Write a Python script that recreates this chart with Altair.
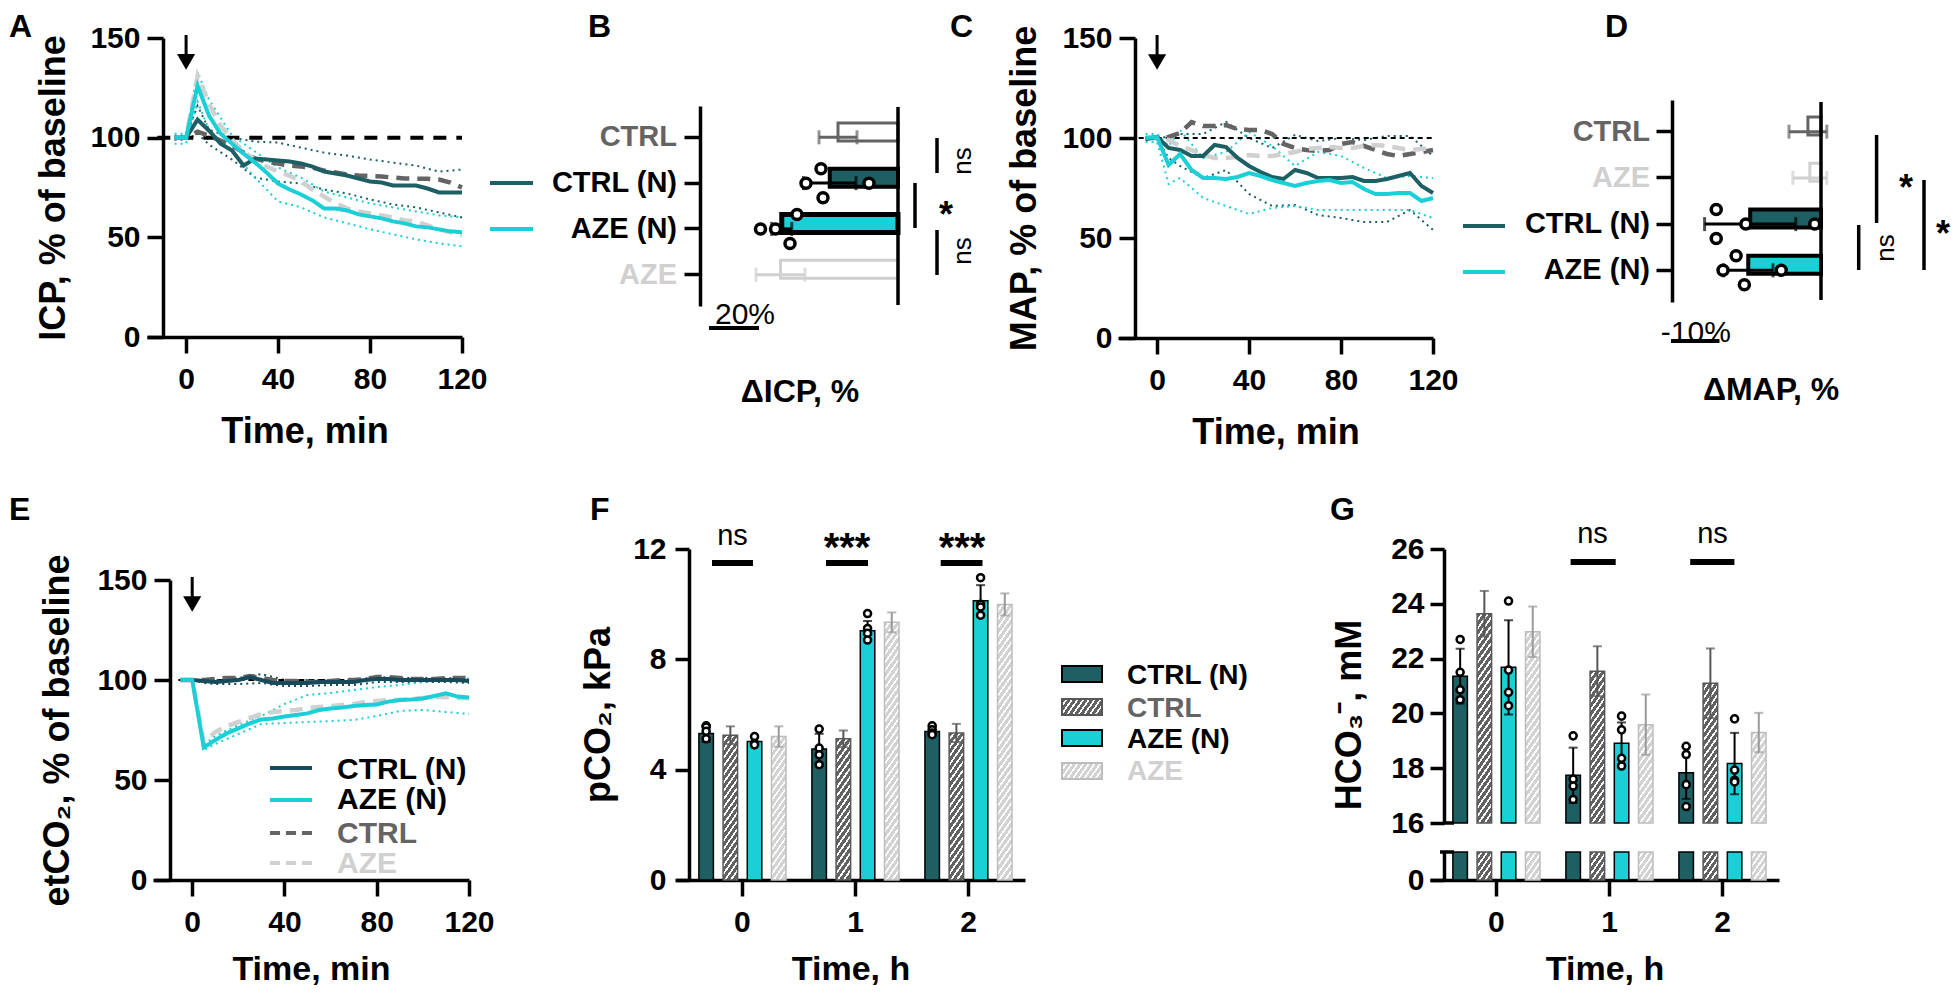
import math
import altair as alt
import pandas as pd

# ============================ values ============================
TIME = [-5, 0, 5, 10, 15, 20, 25, 30, 35, 40, 45, 50, 55, 60, 65, 70, 75, 80, 85, 90, 95, 100, 105, 110, 115, 120]
TIME_SD = [-5, 0, 5, 10, 20, 30, 40, 50, 60, 70, 80, 90, 100, 110, 120]

# A  ICP, % of baseline
icp_ctrl_n = [100, 100, 109, 103.5, 97, 93.5, 86, 89.5, 89, 88.5, 88, 87, 85.5, 83, 82, 81, 79.5, 78, 77.5, 76, 76, 76, 74.5, 72.5, 72.5, 72.5]
icp_aze_n = [100, 100, 126, 111, 102, 97, 92, 87.5, 82.5, 77, 74, 71.5, 68.5, 64.5, 64.5, 63.5, 61.5, 60.5, 59.5, 58, 57, 55.5, 55, 54, 53, 52.5]
icp_ctrl = [100, 100, 103, 101, 98.5, 96, 92.5, 89.5, 88, 87, 86, 85.5, 85, 83.5, 82.5, 81.5, 81, 80.8, 80.5, 80, 79.5, 79.4, 79.4, 79, 77.5, 75]
icp_aze = [100, 100, 131, 117, 106, 99, 93, 89, 85.5, 83, 81, 78, 74, 70.5, 67, 64.5, 63, 62, 61, 60, 58.5, 58, 56, 54, 52.5, 51]
icp_ctrl_n_hi = [101, 101, 116, 104, 100, 98, 97.5, 95, 92.5, 91, 89, 87.5, 86, 83, 84]
icp_ctrl_n_lo = [99, 99, 102, 96.5, 89, 80, 78, 77, 74, 72, 69, 66.5, 65, 62.5, 60]
icp_aze_n_hi = [102, 102, 133, 119, 101, 93, 85, 80, 73, 70, 67, 65, 63, 61, 60]
icp_aze_n_lo = [97, 97, 118, 104, 93, 80, 68, 65, 60, 57, 54, 51.5, 49, 47, 45.5]

# C  MAP, % of baseline
map_ctrl_n = [99.5, 100.5, 95, 94, 91, 91, 96.5, 95.5, 90, 86, 83, 80.5, 79.5, 84, 82.5, 80, 80, 80, 80.5, 78.5, 78.5, 79.5, 81, 82.5, 76, 72.5]
map_aze_n = [100, 100.5, 86.5, 92, 84, 80, 80, 79.5, 80.5, 82.5, 81, 79, 77.5, 76, 77.5, 78.5, 79, 77.5, 78, 74.5, 72, 72, 72.5, 72.5, 68.5, 70]
map_ctrl = [100, 100, 100.5, 102.5, 108, 106, 106, 106.5, 104.5, 104, 104, 102, 97, 95, 94, 93.5, 94, 97, 98, 96, 94, 92, 91, 92, 93, 94]
map_aze = [100, 100, 99, 96, 94, 91.5, 90, 90, 90.5, 91.5, 91, 91, 92, 93, 94.5, 95, 95.5, 95, 95, 96, 96.5, 96, 95, 94, 94.5, 95]
map_ctrl_n_hi = [100, 101, 100, 102, 102, 108, 100, 95, 101.5, 98.5, 100, 99, 101, 101, 91]
map_ctrl_n_lo = [99, 100, 90, 86, 80, 84, 72, 66, 66.5, 61.5, 60, 58, 58, 64, 54]
map_aze_n_hi = [102, 102, 96, 104, 90, 93, 103, 96, 86, 93, 91, 85, 80, 81, 80]
map_aze_n_lo = [98, 98, 77, 80, 70, 66, 62, 65, 66, 64, 64, 64, 64, 64, 60]

# E  etCO2, % of baseline
et_ctrl_n = [100, 100, 99.5, 99, 99.5, 100, 101.5, 100, 98.5, 98.5, 98.5, 98.5, 99, 99, 99, 99, 100, 100.5, 100.5, 100, 100, 100, 100, 100, 100, 99.5]
et_aze_n = [100, 100, 66.3, 70, 73.3, 75.8, 78.3, 80.3, 80.8, 81.7, 82.5, 83.3, 85, 85.8, 86.3, 87, 87.5, 87.8, 89.2, 90, 90.3, 90.8, 92, 93.3, 91.7, 91.3]
et_ctrl = [100, 100, 100, 100.5, 101, 101, 102, 101, 100, 99.5, 99.5, 99, 99, 99.5, 100, 100, 100.5, 101.5, 101.5, 101, 100.5, 100.5, 100.5, 101, 101, 101]
et_aze = [100, 100, 69, 74, 77, 79, 81, 83, 84, 84.5, 85, 86, 86.5, 87, 87.5, 88, 89, 89.5, 90, 90, 90.5, 91, 91.5, 91.5, 91, 91]
et_ctrl_n_hi = [100, 100, 100, 100, 101, 103, 100, 100, 100, 100, 101.5, 101, 101, 101, 100.5]
et_ctrl_n_lo = [100, 100, 98.5, 98, 98, 98.5, 97, 97, 97.5, 97.5, 99, 99, 99, 99, 98.5]
et_aze_n_hi = [100, 100, 67.5, 72, 77.5, 82, 88, 92.5, 93.5, 95, 96.5, 97.5, 99, 100, 100.8]
et_aze_n_lo = [100, 100, 65, 68, 73, 78, 78.5, 79, 79.5, 80, 82, 84.5, 85, 84, 83]

# B  delta ICP, %
dicp_groups = ["CTRL", "CTRL (N)", "AZE (N)", "AZE"]
dicp_mean = [-24.0, -27.3, -46.5, -47.0]
dicp_err = [7.6, 10.5, 4.0, 9.8]
dicp_pts_ctrl_n = [-36.8, -30.8, -30.0, -11.6]
dicp_pts_aze_n = [-55.0, -49.0, -43.2, -40.4]

# D  delta MAP, %
dmap_groups = ["CTRL", "AZE", "CTRL (N)", "AZE (N)"]
dmap_mean = [-2.7, -2.3, -14.6, -15.0]
dmap_err = [3.9, 3.5, 9.4, 5.1]
dmap_pts_ctrl_n = [-21.6, -21.6, -15.5, -1.3]
dmap_pts_aze_n = [-20.2, -17.5, -15.8, -8.2]

# F / G  blood gases at 0, 1, 2 h
hours = ["0", "1", "2"]
groups = ["CTRL (N)", "CTRL", "AZE (N)", "AZE"]
pco2_ctrl_n = [5.31, 4.75, 5.38]
pco2_ctrl = [5.25, 5.12, 5.33]
pco2_aze_n = [5.02, 9.04, 10.12]
pco2_aze = [5.2, 9.34, 9.99]
pco2_ctrl_n_err = [0.3, 0.55, 0.15]
pco2_ctrl_err = [0.32, 0.3, 0.33]
pco2_aze_n_err = [0.15, 0.35, 0.57]
pco2_aze_err = [0.37, 0.36, 0.4]
pco2_ctrl_n_pts = [[5.59, 5.55, 5.39, 5.12], [5.47, 4.78, 4.54, 4.18], [5.59, 5.45, 5.33, 5.27]]
pco2_aze_n_pts = [[5.2, 4.95, 4.9], [9.66, 9.12, 8.94, 8.7], [10.96, 10.0, 9.9, 9.6]]

hco3_ctrl_n = [21.36, 17.74, 17.83]
hco3_ctrl = [23.64, 21.54, 21.1]
hco3_aze_n = [21.68, 18.91, 18.17]
hco3_aze = [22.98, 19.59, 19.3]
hco3_ctrl_n_err = [1.0, 1.01, 0.95]
hco3_ctrl_err = [0.83, 0.91, 1.27]
hco3_aze_n_err = [1.72, 0.76, 1.12]
hco3_aze_err = [0.92, 1.1, 0.72]
hco3_ctrl_n_pts = [[22.7, 21.5, 20.86, 20.5], [19.18, 17.6, 17.35, 16.86], [18.8, 18.5, 17.4, 16.6]]
hco3_aze_n_pts = [[24.1, 21.58, 20.77, 20.28], [19.9, 19.4, 18.36, 18.08], [19.8, 17.93, 17.56, 17.5]]

# ============================ layout & style ============================
W, H = 1944, 978


def X(px):
    return px - 8


def Y(py):
    return py - 8


FONT = "Liberation Sans, Arial, Helvetica, sans-serif"
TEAL = "#1d5f63"
CYAN = "#1acfd5"
GREY = "#646464"
LGREY = "#d0d0d0"
NAVY = "#174b5c"
HATCH_D = "#626262"
HATCH_L = "#d2d2d2"
ONE = pd.DataFrame({"k": [0]})


def hatch(base, w, h, alpha=55.0, period=4.8, frac=0.36):
    """Diagonal white stripes as a hard-stop linear gradient (bbox units) for a w x h pixel rectangle."""
    sa, ca = math.sin(math.radians(alpha)), math.cos(math.radians(alpha))
    h = max(h, 1.0)
    dist = w * sa + h * ca
    k = dist / (w * w * sa * sa + h * h * ca * ca)
    n = max(1, int(round(dist / period)))
    stops = []
    for i in range(n):
        a, b, c = i / n, (i + 1 - frac) / n, (i + 1) / n
        stops += [{"offset": a, "color": base}, {"offset": b, "color": base},
                  {"offset": b, "color": "white"}, {"offset": c, "color": "white"}]
    return {"gradient": "linear", "x1": 0, "y1": 0, "x2": k * w * sa, "y2": k * h * ca, "stops": stops}


def text_at(txt, x, y, size=30, weight="bold", color="black", align="center", baseline="alphabetic", angle=0):
    kw = dict(text=txt, fontSize=size, fontWeight=weight, color=color, align=align, baseline=baseline, font=FONT)
    if angle:
        kw["angle"] = angle
    return alt.Chart(ONE).mark_text(**kw).encode(x=alt.value(X(x)), y=alt.value(Y(y)))


def hseg(x1, x2, y, color="black", width=3.5, dash=None):
    kw = dict(color=color, strokeWidth=width)
    if dash:
        kw["strokeDash"] = dash
    return alt.Chart(ONE).mark_rule(**kw).encode(x=alt.value(X(x1)), x2=alt.value(X(x2)), y=alt.value(Y(y)))


def vseg(x, y1, y2, color="black", width=3.5):
    return alt.Chart(ONE).mark_rule(color=color, strokeWidth=width).encode(
        x=alt.value(X(x)), y=alt.value(Y(y1)), y2=alt.value(Y(y2)))


def box(x1, x2, y1, y2, fill, stroke, width=2):
    return alt.Chart(ONE).mark_rect(fill=fill, stroke=stroke, strokeWidth=width).encode(
        x=alt.value(X(x1)), x2=alt.value(X(x2)), y=alt.value(Y(y1)), y2=alt.value(Y(y2)))


def x_axis(y_line, title, values=None, tick=16, title_y=77, title_size=36):
    kw = dict(orient="bottom", offset=Y(y_line) - H, grid=False, domainColor="black", domainWidth=3.5,
              tickColor="black", tickWidth=3.5, tickSize=tick, labelFont=FONT, labelFontSize=30,
              labelFontWeight="bold", labelColor="black", labelPadding=11, labelFlush=False, labelAngle=0,
              title=title, titleFont=FONT, titleFontSize=title_size, titleFontWeight="bold", titleColor="black",
              titleY=title_y, titleBaseline="top")
    if values is not None:
        kw["values"] = values
    return alt.Axis(**kw)


def y_axis(x_line, values, title=None, title_cx=None, title_cy=None, tick=16, pad=7, label_expr=None, title_size=36):
    kw = dict(orient="left", offset=-X(x_line), grid=False, domainColor="black", domainWidth=3.5,
              tickColor="black", tickWidth=3.5, tickSize=tick, values=values, labelFont=FONT,
              labelFontSize=30, labelFontWeight="bold", labelColor="black", labelPadding=pad, title=title)
    if title is not None:
        kw.update(titleFont=FONT, titleFontSize=title_size, titleFontWeight="bold", titleColor="black",
                  titleAngle=270, titleAlign="center", titleBaseline="middle", titleX=title_cx + 2 - x_line)
        if title_cy is not None:
            kw["titleY"] = Y(title_cy)
    if label_expr:
        kw["labelExpr"] = label_expr
    return alt.Axis(**kw)


# ------------------------------------------------------------ line panels
def series_frame(times, series):
    rows = []
    for key, vals, col in series:
        for t, v in zip(times, vals):
            rows.append({"t": t, "v": v, "s": key, "c": col})
    return pd.DataFrame(rows)


def line_panel(solid, dashed, dotted, xr, yr, axis_x, axis_y, ytitle, title_cx, base_t, base_dash, base_w,
               xtitle_y=77, xtitle_size=36):
    xs = alt.Scale(domain=[-17, 120], range=[X(xr[0]), X(xr[1])], nice=False, zero=False)
    ys = alt.Scale(domain=[0, 150], range=[Y(yr[0]), Y(yr[1])], nice=False, zero=False)
    xa = x_axis(axis_y, "Time, min", values=[0, 40, 80, 120], title_y=xtitle_y, title_size=xtitle_size)
    ya = y_axis(axis_x, [0, 50, 100, 150], ytitle, title_cx)

    def XT(f):
        return alt.X(f, scale=xs, axis=xa)

    def YV(f):
        return alt.Y(f, scale=ys, axis=ya)

    def enc(ch):
        return ch.encode(x=XT("t:Q"), y=YV("v:Q"), color=alt.Color("c:N", scale=None), detail="s:N")

    dots = enc(alt.Chart(series_frame(TIME_SD, dotted)).mark_line(strokeWidth=2, strokeDash=[2, 4]))
    base = alt.Chart(pd.DataFrame({"t": [base_t], "t2": [120], "v": [100]})).mark_rule(
        color="black", strokeWidth=base_w, strokeDash=base_dash).encode(x=XT("t:Q"), x2="t2", y=YV("v:Q"))
    dash = enc(alt.Chart(series_frame(TIME, dashed)).mark_line(strokeWidth=4.5, strokeDash=[13, 8]))
    sol = enc(alt.Chart(series_frame(TIME, solid)).mark_line(strokeWidth=4))
    arrow_df = pd.DataFrame({"t": [0], "v": [151.5], "v2": [141], "vh": [138]})
    shaft = alt.Chart(arrow_df).mark_rule(color="black", strokeWidth=3).encode(x=XT("t:Q"), y=YV("v:Q"), y2="v2")
    head = alt.Chart(arrow_df).mark_point(shape="triangle-down", filled=True, color="black", size=330, opacity=1).encode(
        x=XT("t:Q"), y=YV("vh:Q"))
    return alt.layer(dots, base, dash, sol, shaft, head)


panel_a = line_panel(
    solid=[("ctrl_n", icp_ctrl_n, TEAL), ("aze_n", icp_aze_n, CYAN)],
    dashed=[("ctrl", icp_ctrl, GREY), ("aze", icp_aze, LGREY)],
    dotted=[("a", icp_ctrl_n_hi, TEAL), ("b", icp_ctrl_n_lo, TEAL), ("c", icp_aze_n_hi, CYAN), ("d", icp_aze_n_lo, CYAN)],
    xr=(147, 462), yr=(337, 38), axis_x=163, axis_y=337, ytitle="ICP, % of baseline", title_cx=51.5,
    base_t=-12.5, base_dash=[13, 10], base_w=4)

panel_c = line_panel(
    solid=[("ctrl_n", map_ctrl_n, TEAL), ("aze_n", map_aze_n, CYAN)],
    dashed=[("ctrl", map_ctrl, GREY), ("aze", map_aze, LGREY)],
    dotted=[("a", map_ctrl_n_hi, TEAL), ("b", map_ctrl_n_lo, TEAL), ("c", map_aze_n_hi, CYAN), ("d", map_aze_n_lo, CYAN)],
    xr=(1118, 1433), yr=(338, 38), axis_x=1135, axis_y=338, ytitle="MAP, % of baseline", title_cx=1022,
    base_t=-8, base_dash=[5, 4], base_w=2)

panel_e = line_panel(
    solid=[("ctrl_n", et_ctrl_n, NAVY), ("aze_n", et_aze_n, CYAN)],
    dashed=[("ctrl", et_ctrl, GREY), ("aze", et_aze, LGREY)],
    dotted=[("a", et_ctrl_n_hi, NAVY), ("b", et_ctrl_n_lo, NAVY), ("c", et_aze_n_hi, CYAN), ("d", et_aze_n_lo, CYAN)],
    xr=(153, 469), yr=(880, 580), axis_x=170, axis_y=880, ytitle="etCO₂, % of baseline", title_cx=55,
    base_t=-6, base_dash=[6, 4], base_w=2, xtitle_y=72, xtitle_size=34)


# ------------------------------------------------------------ horizontal bar panels (B, D)
def hbar_panel(cats, means, errs, pts, lanes, fills, strokes, widths, ecols, lcols,
               zero_px, axis_px, ppu, band, label_px, zero_span, sbar, sbar_y, sbar_txt, sbar_txt_v, sbar_txt_y):
    lo_dom = (axis_px - zero_px) / ppu
    xs = alt.Scale(domain=[lo_dom, 0], range=[X(axis_px), X(zero_px)], nice=False, zero=False)
    ys = alt.Scale(domain=cats, range=[Y(band[0]), Y(band[1])], paddingInner=0.37, paddingOuter=0.37)
    ya = alt.Axis(orient="left", offset=-X(axis_px), grid=False, labels=False, ticks=True, tickSize=16,
                  tickWidth=3.5, tickColor="black", domainColor="black", domainWidth=3.5, title=None)
    lo = [m - e for m, e in zip(means, errs)]
    hi = [m + e for m, e in zip(means, errs)]
    df = pd.DataFrame({"cat": cats, "m": means, "zero": [0] * len(cats), "lo": lo, "hi": hi,
                       "fill": fills, "stroke": strokes, "sw": widths, "ec": ecols, "lc": lcols})
    caps = pd.DataFrame({"cat": cats * 2, "xc": lo + hi, "ec": ecols * 2})
    prow = []
    for cat, vals in pts.items():
        for v, ln in zip(vals, lanes[cat]):
            prow.append({"cat": cat, "v": v, "lane": ln})
    pdf = pd.DataFrame(prow)

    def XQ(f):
        return alt.X(f, scale=xs, axis=None)

    def YC():
        return alt.Y("cat:N", scale=ys, axis=ya)

    bars = alt.Chart(df).mark_bar().encode(
        x=XQ("m:Q"), x2="zero", y=YC(),
        fill=alt.Fill("fill:N", scale=None), stroke=alt.Stroke("stroke:N", scale=None),
        strokeWidth=alt.StrokeWidth("sw:Q", scale=None))
    err = alt.Chart(df).mark_rule(strokeWidth=3).encode(
        x=XQ("lo:Q"), x2="hi", y=YC(), color=alt.Color("ec:N", scale=None))
    cap = alt.Chart(caps).mark_tick(thickness=3, size=14).encode(
        x=XQ("xc:Q"), y=YC(), color=alt.Color("ec:N", scale=None))
    dots = alt.Chart(pdf).mark_circle(fill="white", stroke="black", strokeWidth=3.5, size=100, opacity=1).encode(
        x=XQ("v:Q"), y=YC(),
        yOffset=alt.YOffset("lane:N", scale=alt.Scale(domain=["up", "mid", "down"], range=[0, 29],
                                                       paddingInner=0, paddingOuter=0)))
    labels = alt.Chart(df).mark_text(align="right", baseline="middle", font=FONT, fontSize=29, fontWeight="bold").encode(
        x=alt.value(X(label_px)), y=YC(), text="cat:N", color=alt.Color("lc:N", scale=None))
    zl = alt.Chart(pd.DataFrame({"z": [0]})).mark_rule(color="black", strokeWidth=3.5).encode(
        x=XQ("z:Q"), y=alt.value(Y(zero_span[0])), y2=alt.value(Y(zero_span[1])))
    sdf = pd.DataFrame({"a": [sbar[0]], "b": [sbar[1]], "mid": [sbar_txt_v], "txt": [sbar_txt]})
    sb = alt.Chart(sdf).mark_rule(color="black", strokeWidth=4).encode(x=XQ("a:Q"), x2="b", y=alt.value(Y(sbar_y)))
    st = alt.Chart(sdf).mark_text(font=FONT, fontSize=30, fontWeight="normal", align="center", color="black").encode(
        x=XQ("mid:Q"), y=alt.value(Y(sbar_txt_y)), text="txt:N")
    return alt.layer(bars, err, cap, dots, labels, zl, sb, st)


panel_b = hbar_panel(
    dicp_groups, dicp_mean, dicp_err,
    pts={"CTRL (N)": dicp_pts_ctrl_n, "AZE (N)": dicp_pts_aze_n},
    lanes={"CTRL (N)": ["mid", "up", "down", "mid"], "AZE (N)": ["mid", "mid", "down", "up"]},
    fills=["white", TEAL, CYAN, "white"], strokes=[GREY, "black", "black", LGREY], widths=[3, 4, 5, 3],
    ecols=[GREY, "black", "black", LGREY], lcols=[GREY, "black", "black", LGREY],
    zero_px=898, axis_px=700, ppu=2.5, band=(106, 306), label_px=677, zero_span=(107, 305),
    sbar=(-75.6, -55.6), sbar_y=328, sbar_txt="20%", sbar_txt_v=-61.2, sbar_txt_y=315)

panel_d = hbar_panel(
    dmap_groups, dmap_mean, dmap_err,
    pts={"CTRL (N)": dmap_pts_ctrl_n, "AZE (N)": dmap_pts_aze_n},
    lanes={"CTRL (N)": ["up", "down", "mid", "mid"], "AZE (N)": ["mid", "up", "down", "mid"]},
    fills=["white", "white", TEAL, CYAN], strokes=[GREY, LGREY, "black", "black"], widths=[3, 3, 4, 4],
    ecols=[GREY, LGREY, "black", "black"], lcols=[GREY, LGREY, "black", "black"],
    zero_px=1821, axis_px=1672, ppu=4.85, band=(100, 302), label_px=1650, zero_span=(102, 300),
    sbar=(-30.93, -20.93), sbar_y=341, sbar_txt="-10%", sbar_txt_v=-25.8, sbar_txt_y=333)

# ------------------------------------------------------------ vertical grouped bars (F, G)
STYLE = {"CTRL (N)": (TEAL, None, "black", 1.5, "black"),
         "CTRL": (None, HATCH_D, "#575757", 1.5, "#575757"),
         "AZE (N)": (CYAN, None, "black", 1.5, "black"),
         "AZE": (None, HATCH_L, "#bdbdbd", 1.5, "#9a9a9a")}
XO_STEP = 113 / (4 - 0.4 + 2 * 0.535)
BAR_W = 0.6 * XO_STEP  # pixel width of one bar (used only for the hatch geometry)


def grouped_frames(means, errs, pts, base, px_per_unit, lower_px=None):
    rows, caps, prow = [], [], []
    for g in groups:
        solid, hbase, stroke, sw, ec = STYLE[g]
        for i, h in enumerate(hours):
            m, e = means[g][i], errs[g][i]
            fill = solid if solid else hatch(hbase, BAR_W, (m - base) * px_per_unit)
            fill_lo = solid if solid else (hatch(hbase, BAR_W, lower_px) if lower_px else None)
            rows.append({"h": h, "g": g, "m": m, "lo": m - e, "hi": m + e, "base": base, "zero": 0,
                         "fill": fill, "fill_lo": fill_lo, "stroke": stroke, "sw": sw, "ec": ec})
            caps.append({"h": h, "g": g, "yc": m - e, "ec": ec})
            caps.append({"h": h, "g": g, "yc": m + e, "ec": ec})
    for g, lists in pts.items():
        for i, h in enumerate(hours):
            for v in lists[i]:
                prow.append({"h": h, "g": g, "v": v})
    return pd.DataFrame(rows), pd.DataFrame(caps), pd.DataFrame(prow)


XO = alt.Scale(domain=groups, range=[0, 113], paddingInner=0.4, paddingOuter=0.535)


def grouped_layers(df, cdf, pdf, xs, ys, xa, ya, y2field):
    def XB():
        return alt.X("h:N", scale=xs, axis=xa, sort=hours)

    def YQ(f):
        return alt.Y(f, scale=ys, axis=ya)

    off = alt.XOffset("g:N", scale=XO, sort=groups)
    enc_bar = dict(x=XB(), xOffset=off, y=YQ("m:Q"),
                   fill=alt.Fill("fill:N", scale=None), stroke=alt.Stroke("stroke:N", scale=None),
                   strokeWidth=alt.StrokeWidth("sw:Q", scale=None))
    if y2field:
        enc_bar["y2"] = y2field
    bars = alt.Chart(df).mark_bar().encode(**enc_bar)
    err = alt.Chart(df).mark_rule(strokeWidth=2).encode(
        x=XB(), xOffset=off, y=YQ("lo:Q"), y2="hi", color=alt.Color("ec:N", scale=None))
    cap = alt.Chart(cdf).mark_tick(thickness=2, size=9).encode(
        x=XB(), xOffset=off, y=YQ("yc:Q"), color=alt.Color("ec:N", scale=None))
    dots = alt.Chart(pdf).mark_circle(fill="white", stroke="black", strokeWidth=2.5, size=50, opacity=1).encode(
        x=XB(), xOffset=off, y=YQ("v:Q"))
    return bars, err, cap, dots


F_PPU = (880 - 549) / 12
f_df, f_caps, f_pts = grouped_frames(
    {"CTRL (N)": pco2_ctrl_n, "CTRL": pco2_ctrl, "AZE (N)": pco2_aze_n, "AZE": pco2_aze},
    {"CTRL (N)": pco2_ctrl_n_err, "CTRL": pco2_ctrl_err, "AZE (N)": pco2_aze_n_err, "AZE": pco2_aze_err},
    {"CTRL (N)": pco2_ctrl_n_pts, "AZE (N)": pco2_aze_n_pts}, base=0, px_per_unit=F_PPU)
xs_f = alt.Scale(domain=hours, range=[X(676), X(1025)], paddingInner=0, paddingOuter=0.044, align=1)
ys_f = alt.Scale(domain=[0, 12], range=[Y(880), Y(549)], nice=False, zero=True)
panel_f = alt.layer(*grouped_layers(
    f_df, f_caps, f_pts, xs_f, ys_f, x_axis(880, "Time, h", title_y=72, title_size=34),
    y_axis(689, [0, 4, 8, 12], "pCO₂, kPa", 596, tick=14, pad=9), None))

G_PPU = (823 - 549) / 10
g_df, g_caps, g_pts = grouped_frames(
    {"CTRL (N)": hco3_ctrl_n, "CTRL": hco3_ctrl, "AZE (N)": hco3_aze_n, "AZE": hco3_aze},
    {"CTRL (N)": hco3_ctrl_n_err, "CTRL": hco3_ctrl_err, "AZE (N)": hco3_aze_n_err, "AZE": hco3_aze_err},
    {"CTRL (N)": hco3_ctrl_n_pts, "AZE (N)": hco3_aze_n_pts}, base=16, px_per_unit=G_PPU, lower_px=28)
xs_g = alt.Scale(domain=hours, range=[X(1430), X(1779)], paddingInner=0, paddingOuter=0.044, align=1)
ys_gu = alt.Scale(domain=[16, 26], range=[Y(823), Y(549)], nice=False, zero=False)
ys_gl = alt.Scale(domain=[0, 1], range=[Y(880), Y(852)], nice=False, zero=False, clamp=True)
xa_g = x_axis(880, "Time, h", title_y=72, title_size=34)
g_upper = alt.layer(*grouped_layers(
    g_df, g_caps, g_pts, xs_g, ys_gu, xa_g,
    y_axis(1444, [16, 18, 20, 22, 24, 26], "HCO₃⁻, mM", 1347, title_cy=714.5, tick=14, pad=6), "base"))
g_lower = alt.Chart(g_df).mark_bar().encode(
    x=alt.X("h:N", scale=xs_g, axis=xa_g, sort=hours),
    xOffset=alt.XOffset("g:N", scale=XO, sort=groups),
    y=alt.Y("m:Q", scale=ys_gl, axis=y_axis(1444, [0], tick=14, pad=6)),
    y2="zero",
    fill=alt.Fill("fill_lo:N", scale=None), stroke=alt.Stroke("stroke:N", scale=None),
    strokeWidth=alt.StrokeWidth("sw:Q", scale=None))
panel_g = alt.layer(g_upper, g_lower).resolve_scale(y="independent")

# ------------------------------------------------------------ annotations
notes = [
    # panel letters
    text_at("A", 9, 37, size=32, align="left"), text_at("B", 588, 37, size=32, align="left"),
    text_at("C", 950, 37, size=32, align="left"), text_at("D", 1605, 37, size=32, align="left"),
    text_at("E", 9, 520, size=32, align="left"), text_at("F", 590, 520, size=32, align="left"),
    text_at("G", 1330, 520, size=32, align="left"),
    # B / D titles
    text_at("ΔICP, %", 800, 402, size=32), text_at("ΔMAP, %", 1771, 400, size=32),
    # legend strokes of A and C next to the B / D labels
    hseg(490, 533, 183, TEAL, 4), hseg(490, 533, 229, CYAN, 4),
    hseg(1463, 1505, 226, TEAL, 4), hseg(1463, 1505, 272, CYAN, 4),
    # B brackets
    vseg(937, 138, 173), vseg(937, 230, 275), vseg(915, 183, 228),
    text_at("ns", 963, 161, size=26, weight="normal", baseline="middle", angle=270),
    text_at("ns", 963, 251, size=26, weight="normal", baseline="middle", angle=270),
    text_at("*", 946, 227, size=36),
    # D brackets
    vseg(1858.7, 225, 270), vseg(1876.6, 135, 223), vseg(1924, 180, 270),
    text_at("ns", 1885.5, 248, size=26, weight="normal", baseline="middle", angle=270),
    text_at("*", 1906, 200, size=36), text_at("*", 1943, 246, size=36),
    # E legend
    hseg(270, 312, 768, NAVY, 4), hseg(270, 312, 800, CYAN, 4),
    hseg(270, 312, 833, GREY, 4, [10, 6]), hseg(270, 312, 863, LGREY, 4, [10, 6]),
    text_at("CTRL (N)", 337, 770, size=30, align="left", baseline="middle"),
    text_at("AZE (N)", 337, 800, size=30, align="left", baseline="middle"),
    text_at("CTRL", 337, 834, size=30, align="left", baseline="middle", color=GREY),
    text_at("AZE", 337, 864, size=30, align="left", baseline="middle", color=LGREY),
    # F significance
    hseg(712, 753, 563, width=6), hseg(826, 868, 563, width=6), hseg(940.7, 982.5, 563, width=6),
    text_at("ns", 732.5, 545, size=29, weight="normal"),
    text_at("***", 847, 561, size=40), text_at("***", 962, 561, size=40),
    # F legend
    box(1062, 1102, 666, 682, TEAL, "black"), box(1062, 1102, 699, 715, hatch(HATCH_D, 40, 16), "#575757"),
    box(1062, 1102, 730, 746, CYAN, "black"), box(1062, 1102, 763, 779, hatch(HATCH_L, 40, 16), "#bdbdbd"),
    text_at("CTRL (N)", 1127, 676, size=28, align="left", baseline="middle"),
    text_at("CTRL", 1127, 709, size=28, align="left", baseline="middle", color=GREY),
    text_at("AZE (N)", 1127, 740, size=28, align="left", baseline="middle"),
    text_at("AZE", 1127, 772, size=28, align="left", baseline="middle", color=LGREY),
    # G significance and axis break marks
    hseg(1570.6, 1615.7, 562, width=6), hseg(1690.2, 1734.4, 562, width=6),
    text_at("ns", 1592.5, 543, size=29, weight="normal"), text_at("ns", 1712.5, 543, size=29, weight="normal"),
    hseg(1444, 1454, 823), hseg(1440, 1454, 852),
]

chart = alt.layer(
    panel_a, panel_b, panel_c, panel_d, panel_e, panel_f, panel_g, *notes
).resolve_scale(x="independent", y="independent").properties(
    width=W, height=H, padding=0, autosize=alt.AutoSizeParams(type="none"), background="white"
).configure_view(stroke=None)

chart.save("out.html", embed_options={"renderer": "svg", "actions": False})
